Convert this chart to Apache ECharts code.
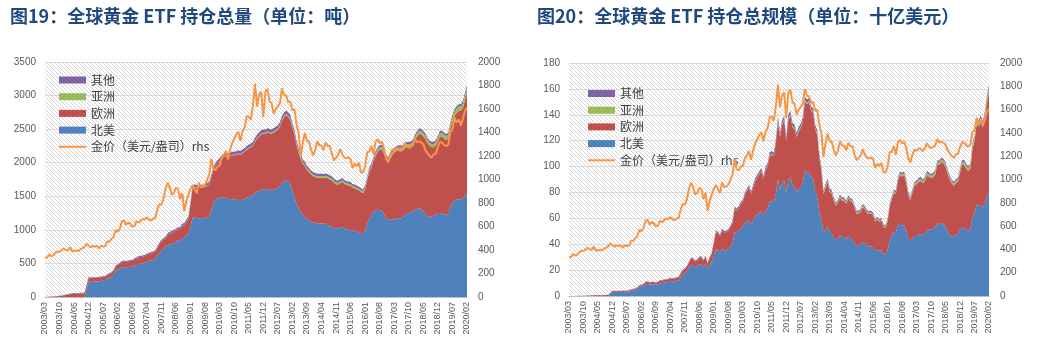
<!DOCTYPE html>
<html><head><meta charset="utf-8">
<script src="https://cdn.jsdelivr.net/npm/echarts@6/dist/echarts.min.js"></script>
<style>html,body{margin:0;padding:0;background:#fff}#c{width:1047px;height:357px}</style>
</head><body><div id="c"></div>
<script>
const months = ("2003/03 2003/04 2003/05 2003/06 2003/07 2003/08 2003/09 2003/10 2003/11 2003/12 " +
"2004/01 2004/02 2004/03 2004/04 2004/05 2004/06 2004/07 2004/08 2004/09 2004/10 2004/11 2004/12 " +
"2005/01 2005/02 2005/03 2005/04 2005/05 2005/06 2005/07 2005/08 2005/09 2005/10 2005/11 2005/12 " +
"2006/01 2006/02 2006/03 2006/04 2006/05 2006/06 2006/07 2006/08 2006/09 2006/10 2006/11 2006/12 " +
"2007/01 2007/02 2007/03 2007/04 2007/05 2007/06 2007/07 2007/08 2007/09 2007/10 2007/11 2007/12 " +
"2008/01 2008/02 2008/03 2008/04 2008/05 2008/06 2008/07 2008/08 2008/09 2008/10 2008/11 2008/12 " +
"2009/01 2009/02 2009/03 2009/04 2009/05 2009/06 2009/07 2009/08 2009/09 2009/10 2009/11 2009/12 " +
"2010/01 2010/02 2010/03 2010/04 2010/05 2010/06 2010/07 2010/08 2010/09 2010/10 2010/11 2010/12 " +
"2011/01 2011/02 2011/03 2011/04 2011/05 2011/06 2011/07 2011/08 2011/09 2011/10 2011/11 2011/12 " +
"2012/01 2012/02 2012/03 2012/04 2012/05 2012/06 2012/07 2012/08 2012/09 2012/10 2012/11 2012/12 " +
"2013/01 2013/02 2013/03 2013/04 2013/05 2013/06 2013/07 2013/08 2013/09 2013/10 2013/11 2013/12 " +
"2014/01 2014/02 2014/03 2014/04 2014/05 2014/06 2014/07 2014/08 2014/09 2014/10 2014/11 2014/12 " +
"2015/01 2015/02 2015/03 2015/04 2015/05 2015/06 2015/07 2015/08 2015/09 2015/10 2015/11 2015/12 " +
"2016/01 2016/02 2016/03 2016/04 2016/05 2016/06 2016/07 2016/08 2016/09 2016/10 2016/11 2016/12 " +
"2017/01 2017/02 2017/03 2017/04 2017/05 2017/06 2017/07 2017/08 2017/09 2017/10 2017/11 2017/12 " +
"2018/01 2018/02 2018/03 2018/04 2018/05 2018/06 2018/07 2018/08 2018/09 2018/10 2018/11 2018/12 " +
"2019/01 2019/02 2019/03 2019/04 2019/05 2019/06 2019/07 2019/08 2019/09 2019/10 2019/11 2019/12 " +
"2020/01 2020/02").split(' ');

// Gold price, USD/oz (rhs)
const gold = [335,337,361,346,355,376,388,386,398,416,
400,396,424,389,393,396,391,407,416,426,453,436,
422,435,428,436,414,437,429,433,473,471,496,513,
569,556,582,644,653,614,633,624,599,604,647,632,
651,664,662,677,659,651,666,672,743,790,784,834,
923,972,934,871,886,930,918,833,885,731,815,870,
920,952,917,883,976,935,939,956,996,1040,1176,1088,
1079,1110,1116,1179,1208,1244,1169,1246,1308,1347,1384,1406,
1327,1411,1439,1536,1537,1506,1629,1814,1620,1722,1746,1531,
1744,1770,1663,1651,1558,1599,1622,1649,1776,1719,1715,1658,
1665,1589,1598,1469,1395,1192,1315,1395,1327,1324,1253,1205,
1251,1327,1292,1289,1251,1315,1285,1286,1217,1164,1183,1206,
1260,1214,1187,1180,1191,1171,1098,1135,1114,1142,1061,1060,
1112,1235,1237,1286,1212,1321,1342,1309,1323,1272,1178,1146,
1213,1256,1245,1266,1266,1242,1268,1312,1283,1270,1280,1291,
1345,1318,1324,1315,1299,1250,1224,1201,1187,1215,1218,1279,
1319,1316,1295,1283,1296,1409,1420,1528,1485,1511,1461,1515,
1583,1610];

// Holdings, tonnes
const naTonnes = [0,0,0,0,0,0,0,0,0,0,
0,0,0,0,0,0,0,0,0,0,110,230,
225,228,230,232,235,238,242,250,270,280,300,330,
390,405,420,440,450,440,445,450,450,460,475,490,
495,500,510,525,540,545,550,565,610,655,690,720,
750,775,785,790,800,820,840,850,880,880,920,950,
1050,1180,1190,1175,1170,1175,1170,1175,1185,1200,1300,1400,
1450,1470,1480,1490,1485,1475,1465,1455,1460,1450,1445,1450,
1440,1450,1460,1480,1490,1500,1510,1550,1570,1580,1590,1600,
1600,1610,1600,1590,1600,1610,1620,1650,1700,1720,1740,1720,
1690,1580,1500,1380,1320,1270,1220,1200,1160,1140,1120,1110,
1105,1100,1100,1095,1090,1095,1080,1050,1045,1030,1020,1025,
1035,1045,1020,1010,1000,998,985,985,975,965,950,935,
990,1090,1180,1200,1270,1290,1300,1295,1285,1240,1170,1150,
1150,1150,1160,1170,1175,1170,1180,1220,1250,1250,1260,1280,
1300,1310,1320,1310,1280,1240,1200,1190,1200,1210,1225,1250,
1250,1240,1230,1220,1240,1340,1400,1440,1450,1460,1450,1470,
1510,1545];
const euTonnes = [0,0,2,4,6,8,10,14,18,24,
30,36,42,46,50,52,52,54,55,56,58,60,
55,55,55,55,55,55,55,55,58,60,60,62,
65,70,75,80,80,80,82,85,90,95,100,100,
100,100,100,100,100,100,105,110,120,130,135,130,
125,150,160,165,170,170,170,165,180,190,200,220,
330,440,450,450,455,455,460,465,470,475,480,485,
500,520,540,570,600,620,630,640,650,660,670,680,
680,690,700,710,720,730,740,760,790,810,830,830,
830,840,840,840,850,860,870,890,930,960,970,960,
950,940,920,880,830,780,760,750,730,720,700,690,
680,675,675,680,680,685,690,700,690,670,660,650,
660,670,665,660,660,655,640,635,625,620,615,610,
620,650,690,720,760,810,860,900,910,900,880,860,
900,960,990,1000,1010,1010,1000,990,985,980,975,980,
1040,1080,1110,1110,1110,1110,1090,1060,1030,1020,1030,1070,
1140,1150,1130,1120,1120,1170,1220,1260,1290,1310,1320,1340,
1420,1500];
const asTonnes = [0,0,0,0,0,0,0,0,0,0,
0,0,0,0,0,0,0,0,0,0,0,0,
0,0,0,0,0,0,0,0,0,0,0,0,
0,0,0,0,0,0,0,0,0,0,0,0,
0,0,1,1,1,1,2,2,2,2,2,3,
3,3,3,3,3,3,4,4,4,4,4,4,
4,5,5,5,5,5,5,5,5,6,6,6,
6,7,7,8,8,8,9,9,10,10,10,11,
11,12,12,13,13,13,14,14,15,15,15,16,
16,17,17,18,18,18,19,19,20,20,20,21,
21,22,23,24,25,25,25,25,26,26,26,26,
26,27,27,27,27,27,27,27,27,27,27,27,
27,27,27,27,27,27,27,27,27,27,27,27,
28,29,30,31,32,33,34,35,35,36,36,36,
37,38,39,40,41,42,43,44,45,46,47,48,
48,49,50,50,50,50,50,49,48,48,48,50,
52,53,54,55,56,58,60,62,64,66,68,70,
72,75];
const otTonnes = [1,2,3,4,4,5,5,6,6,7,
7,8,8,8,8,8,9,9,9,9,10,10,
10,10,11,11,11,12,12,12,12,13,13,13,
14,14,15,15,15,15,16,16,16,17,17,17,
18,18,18,19,19,19,20,20,21,21,22,22,
22,23,23,24,24,25,25,25,27,28,28,30,
32,35,36,36,36,37,37,37,38,38,39,40,
40,40,41,41,42,42,42,43,43,43,44,44,
44,44,45,45,45,45,46,46,46,46,47,47,
47,47,47,47,47,47,47,48,48,48,48,48,
48,47,46,45,43,42,41,40,39,38,37,36,
35,35,35,34,34,34,34,33,33,33,32,32,
32,32,32,31,31,31,31,30,30,30,30,30,
30,31,31,32,32,33,33,33,33,33,33,33,
33,33,33,33,33,33,33,33,33,33,33,33,
33,33,33,33,33,33,33,33,33,33,33,33,
34,34,34,34,34,35,35,35,36,36,36,37,
37,38];

// Holdings value, billion USD
const naValue = [0,0,0,0,0,0,0,0,0,0,
0,0,0,0,0,0,0,0,0,0,1.60,3.22,
3.05,3.19,3.16,3.25,3.13,3.34,3.34,3.48,4.11,4.24,4.79,5.44,
7.13,7.24,7.86,9.11,9.45,8.69,9.06,9.03,8.67,8.93,9.88,9.96,
10.36,10.68,10.85,11.43,11.44,11.41,11.78,12.20,14.57,16.64,17.39,19.30,
22.25,24.22,23.57,22.12,22.78,24.52,24.79,22.76,25.04,20.68,24.10,26.57,
31.06,36.12,35.08,33.36,36.71,35.32,35.32,36.12,37.94,40.13,49.15,48.97,
50.30,52.46,53.10,56.47,57.68,58.99,55.05,58.29,61.39,62.80,64.30,65.54,
61.43,65.77,67.54,73.08,73.62,72.63,79.08,90.40,81.77,87.47,89.25,78.75,
89.71,91.63,85.55,84.40,80.14,82.77,84.48,87.48,97.07,95.06,95.94,91.68,
90.47,80.72,77.07,65.18,59.20,48.67,51.58,53.82,49.49,48.53,45.11,43.00,
44.44,46.93,45.69,45.38,43.84,46.30,44.61,43.41,40.89,38.54,38.79,39.74,
41.93,40.79,38.92,38.32,38.29,37.57,34.77,35.94,34.92,35.43,32.40,31.86,
35.39,43.28,46.93,49.61,49.49,54.79,56.10,54.49,54.65,50.70,44.31,42.37,
44.85,46.44,46.43,47.62,47.82,46.72,48.11,51.46,51.56,51.04,51.85,53.13,
56.21,55.50,56.19,55.39,53.45,49.84,47.22,45.95,45.79,47.26,47.97,51.40,
53.01,52.46,51.20,50.33,51.67,60.70,63.91,70.75,69.22,70.93,68.11,71.60,
76.84,79.97];
const euValue = [0,0,0.02,0.04,0.07,0.10,0.12,0.17,0.23,0.32,
0.39,0.46,0.57,0.58,0.63,0.66,0.65,0.71,0.74,0.77,0.84,0.84,
0.75,0.77,0.76,0.77,0.73,0.77,0.76,0.77,0.88,0.91,0.96,1.02,
1.19,1.25,1.40,1.66,1.68,1.58,1.67,1.71,1.73,1.84,2.08,2.03,
2.09,2.14,2.13,2.18,2.12,2.09,2.25,2.38,2.87,3.30,3.40,3.49,
3.71,4.69,4.80,4.62,4.84,5.08,5.02,4.42,5.12,4.47,5.24,6.15,
9.76,13.47,13.27,12.78,14.28,13.68,13.89,14.29,15.05,15.88,18.15,16.97,
17.35,18.56,19.38,21.60,23.30,24.79,23.68,25.64,27.33,28.58,29.82,30.74,
29.01,31.30,32.38,35.06,35.58,35.35,38.75,44.32,41.14,44.84,46.59,40.85,
46.54,47.80,44.91,44.59,42.58,44.21,45.37,47.19,53.10,53.06,53.49,51.17,
50.85,48.02,47.27,41.56,37.23,29.89,32.13,33.64,31.14,30.65,28.20,26.73,
27.35,28.80,28.04,28.18,27.35,28.96,28.50,28.94,27.00,25.07,25.10,25.20,
26.74,26.15,25.38,25.04,25.27,24.66,22.59,23.17,22.39,22.77,20.98,20.79,
22.17,25.81,27.44,29.76,29.62,34.40,37.11,37.87,38.70,36.80,33.33,31.68,
35.10,38.76,39.63,40.70,41.11,40.33,40.77,41.76,40.63,40.01,40.12,40.68,
44.97,45.76,47.25,46.93,46.35,44.61,42.89,40.93,39.30,39.84,40.33,44.00,
48.35,48.66,47.04,46.20,46.67,53.00,55.69,61.90,61.58,63.64,62.00,65.27,
72.26,77.64];
const asValue = [0,0,0,0,0,0,0,0,0,0,
0,0,0,0,0,0,0,0,0,0,0,0,
0,0,0,0,0,0,0,0,0,0,0,0,
0,0,0,0,0,0,0,0,0,0,0,0,
0,0,0.02,0.02,0.02,0.02,0.04,0.04,0.05,0.05,0.05,0.08,
0.09,0.09,0.09,0.08,0.09,0.09,0.12,0.11,0.11,0.09,0.10,0.11,
0.12,0.15,0.15,0.14,0.16,0.15,0.15,0.15,0.16,0.20,0.23,0.21,
0.21,0.25,0.25,0.30,0.31,0.32,0.34,0.36,0.42,0.43,0.45,0.50,
0.47,0.54,0.56,0.64,0.64,0.63,0.73,0.82,0.78,0.83,0.84,0.79,
0.90,0.97,0.91,0.96,0.90,0.93,0.99,1.01,1.14,1.11,1.10,1.12,
1.12,1.12,1.18,1.13,1.12,0.96,1.06,1.12,1.11,1.11,1.05,1.01,
1.05,1.15,1.12,1.12,1.09,1.14,1.12,1.12,1.06,1.01,1.03,1.05,
1.09,1.05,1.03,1.02,1.03,1.02,0.95,0.99,0.97,0.99,0.92,0.92,
1.00,1.15,1.19,1.28,1.25,1.40,1.47,1.47,1.49,1.47,1.36,1.33,
1.44,1.53,1.56,1.63,1.67,1.68,1.75,1.86,1.86,1.88,1.93,1.99,
2.08,2.08,2.13,2.11,2.09,2.01,1.97,1.89,1.83,1.87,1.88,2.06,
2.21,2.24,2.25,2.27,2.33,2.63,2.74,3.05,3.06,3.21,3.19,3.41,
3.66,3.88];
const otValue = [0.01,0.02,0.03,0.04,0.05,0.06,0.06,0.07,0.08,0.09,
0.09,0.10,0.11,0.10,0.10,0.10,0.11,0.12,0.12,0.12,0.15,0.14,
0.14,0.14,0.15,0.15,0.15,0.17,0.17,0.17,0.18,0.20,0.21,0.21,
0.26,0.25,0.28,0.31,0.31,0.30,0.33,0.32,0.31,0.33,0.35,0.35,
0.38,0.38,0.38,0.41,0.40,0.40,0.43,0.43,0.50,0.53,0.55,0.59,
0.65,0.72,0.69,0.67,0.68,0.75,0.74,0.67,0.77,0.66,0.73,0.84,
0.95,1.07,1.06,1.02,1.13,1.11,1.12,1.14,1.22,1.27,1.47,1.40,
1.39,1.43,1.47,1.55,1.63,1.68,1.58,1.72,1.81,1.86,1.96,1.99,
1.88,2.00,2.08,2.22,2.22,2.18,2.41,2.68,2.40,2.55,2.64,2.31,
2.64,2.67,2.51,2.49,2.35,2.42,2.45,2.54,2.74,2.65,2.65,2.56,
2.57,2.40,2.36,2.13,1.93,1.61,1.73,1.79,1.66,1.62,1.49,1.39,
1.41,1.49,1.45,1.41,1.37,1.44,1.40,1.36,1.29,1.23,1.22,1.24,
1.30,1.25,1.22,1.18,1.19,1.17,1.09,1.09,1.07,1.10,1.02,1.02,
1.07,1.23,1.23,1.32,1.25,1.40,1.42,1.39,1.40,1.35,1.25,1.22,
1.29,1.33,1.32,1.34,1.34,1.32,1.35,1.39,1.36,1.35,1.36,1.37,
1.43,1.40,1.40,1.40,1.38,1.33,1.30,1.27,1.26,1.29,1.29,1.36,
1.44,1.44,1.42,1.40,1.42,1.59,1.60,1.72,1.72,1.75,1.69,1.80,
1.88,1.97];

const titles = ['图19：全球黄金 ETF 持仓总量（单位：吨）', '图20：全球黄金 ETF 持仓总规模（单位：十亿美元）'];
const names = { na: '北美', eu: '欧洲', as: '亚洲', ot: '其他', gold: '金价（美元/盎司）rhs' };
const colors = { na: '#4F81BD', eu: '#C0504D', as: '#9BBB59', ot: '#8064A2', gold: '#F79646' };

function hatch() {
  const c = document.createElement('canvas');
  c.width = 4; c.height = 4;
  const g = c.getContext('2d');
  g.fillStyle = '#ffffff'; g.fillRect(0, 0, 4, 4);
  g.strokeStyle = '#d6d6d6'; g.lineWidth = 1;
  g.beginPath(); g.moveTo(-1, -1); g.lineTo(5, 5); g.stroke();
  return c;
}
const pat = { image: hatch(), repeat: 'repeat' };

const axisFont = 'Liberation Sans, Arial, sans-serif';
const cjk = '"Noto Sans CJK SC", sans-serif';
const plain = function (v) { return String(v); };

function xAxis(gi) {
  return { type: 'category', gridIndex: gi, data: months, boundaryGap: false,
    axisLine: { lineStyle: { color: '#BFBFBF' } },
    axisTick: { show: false },
    axisLabel: { interval: 6, rotate: 90, fontSize: 9, color: '#595959', margin: 5, fontFamily: axisFont },
    splitLine: { show: false } };
}
function yAxis(gi, pos, max, interval, margin, split) {
  return { type: 'value', gridIndex: gi, position: pos, min: 0, max: max, interval: interval,
    axisLine: { show: false }, axisTick: { show: false },
    axisLabel: { fontSize: 10, color: '#595959', margin: margin, fontFamily: axisFont, formatter: plain },
    splitLine: { show: split, lineStyle: { color: '#D9D9D9', width: 1 } } };
}
function area(key, data, gi) {
  return { name: names[key], type: 'line', xAxisIndex: gi, yAxisIndex: gi * 2, stack: 's' + gi,
    data: data, symbol: 'none', lineStyle: { width: 0 }, itemStyle: { color: colors[key] },
    areaStyle: { color: colors[key], opacity: 1 }, z: 2 };
}
function goldLine(gi) {
  return { name: names.gold, type: 'line', xAxisIndex: gi, yAxisIndex: gi * 2 + 1, data: gold,
    symbol: 'none', lineStyle: { color: colors.gold, width: 2 }, itemStyle: { color: colors.gold }, z: 5 };
}
function legend(left, top) {
  return { orient: 'vertical', left: left, top: top, padding: 0, itemWidth: 27, itemHeight: 7, itemGap: 3.7,
    itemTextGap: 4, selectedMode: false,
    textStyle: { fontSize: 12, lineHeight: 13, color: '#404040', fontFamily: cjk },
    data: [{ name: names.ot, icon: 'rect' }, { name: names.as, icon: 'rect' },
      { name: names.eu, icon: 'rect' }, { name: names.na, icon: 'rect' },
      { name: names.gold, itemStyle: { opacity: 0 }, lineStyle: { color: colors.gold, width: 2 } }] };
}

const chart = echarts.init(document.getElementById('c'), null, { renderer: 'canvas' });
chart.setOption({
  animation: false,
  backgroundColor: '#ffffff',
  title: [
    { text: titles[0], left: 10, top: 7, padding: 0, textStyle: { fontFamily: cjk, fontWeight: 'bold', fontSize: 18, color: '#1F497D' } },
    { text: titles[1], left: 537, top: 7, padding: 0, textStyle: { fontFamily: cjk, fontWeight: 'bold', fontSize: 18, color: '#1F497D' } }
  ],
  legend: [legend(58, 73.5), legend(587, 87)],
  grid: [
    { left: 45, right: 580, top: 62, bottom: 60, show: true, backgroundColor: pat, borderWidth: 0 },
    { left: 569, right: 58, top: 63, bottom: 61, show: true, backgroundColor: pat, borderWidth: 0 }
  ],
  xAxis: [xAxis(0), xAxis(1)],
  yAxis: [
    yAxis(0, 'left', 3500, 500, 9, true), yAxis(0, 'right', 2000, 200, 11, false),
    yAxis(1, 'left', 180, 20, 9, true), yAxis(1, 'right', 2000, 200, 11, false)
  ],
  series: [
    area('na', naTonnes, 0), area('eu', euTonnes, 0), area('as', asTonnes, 0), area('ot', otTonnes, 0), goldLine(0),
    area('na', naValue, 1), area('eu', euValue, 1), area('as', asValue, 1), area('ot', otValue, 1), goldLine(1)
  ]
});
</script></body></html>
